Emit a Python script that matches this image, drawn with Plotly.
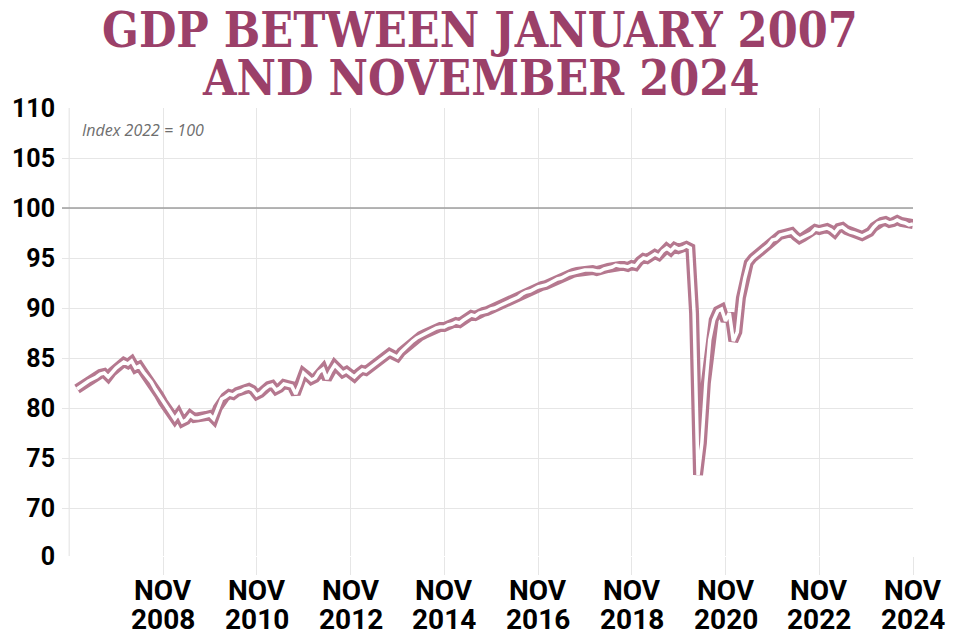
import pandas as pd
import plotly.graph_objects as go

# ---- data (monthly GDP index, 2022 = 100) ----
y2007 = [81.9, 82.2, 82.5, 82.7, 82.9, 83.1, 83.4, 83.5, 83.1, 83.6, 84.0, 84.3]
y2008 = [84.6, 84.4, 84.7, 84.0, 84.2, 83.6, 83.1, 82.6, 81.9, 81.3, 80.6, 80.0]
y2009 = [79.4, 78.9, 79.4, 78.6, 78.8, 79.3, 79.0, 79.0, 79.1, 79.2, 79.3, 78.9]
y2010 = [80.0, 80.9, 81.1, 81.4, 81.3, 81.6, 81.7, 81.9, 82.0, 81.8, 81.3, 81.5]
y2011 = [81.9, 82.2, 82.3, 81.8, 82.0, 82.4, 82.3, 82.2, 81.4, 82.3, 83.5, 83.2]
y2012 = [82.8, 83.0, 83.6, 83.9, 82.9, 83.7, 84.3, 83.9, 83.5, 83.7, 83.4, 83.1]
y2013 = [83.5, 83.8, 83.7, 84.0, 84.3, 84.6, 84.9, 85.2, 85.5, 85.3, 85.1, 85.6]
y2014 = [86.0, 86.4, 86.7, 87.0, 87.2, 87.4, 87.6, 87.8, 88.0, 88.1, 88.1, 88.3]
y2015 = [88.4, 88.6, 88.5, 88.8, 89.0, 89.3, 89.2, 89.5, 89.6, 89.7, 89.9, 90.0]
y2016 = [90.2, 90.4, 90.6, 90.8, 90.9, 91.1, 91.4, 91.6, 91.7, 91.9, 92.1, 92.2]
y2017 = [92.3, 92.5, 92.7, 92.9, 93.0, 93.2, 93.4, 93.5, 93.6, 93.7, 93.8, 93.8]
y2018 = [93.8, 93.7, 93.7, 93.9, 94.0, 94.1, 94.3, 94.2, 94.2, 94.1, 94.3, 94.2]
y2019 = [94.7, 95.0, 94.9, 95.2, 95.4, 95.2, 95.7, 96.0, 95.7, 96.1, 95.9, 96.0]
y2020 = [96.2, 96.0, 89.5, 73.3, 76.5, 82.5, 86.8, 88.8, 89.7, 89.9, 88.7, 89.5]
y2021 = [86.7, 87.6, 91.0, 93.0, 94.5, 95.0, 95.3, 95.6, 96.0, 96.3, 96.8, 96.9]
y2022 = [97.3, 97.4, 97.5, 97.6, 97.2, 96.9, 97.1, 97.3, 97.5, 97.9, 97.8, 97.9]
y2023 = [98.0, 97.8, 97.5, 98.0, 98.1, 97.8, 97.6, 97.5, 97.3, 97.2, 97.4, 97.6]
y2024 = [98.1, 98.5, 98.6, 98.7, 98.5, 98.6, 98.8, 98.6, 98.5, 98.3, 98.4]

gdp = (y2007 + y2008 + y2009 + y2010 + y2011 + y2012 + y2013 + y2014 + y2015
       + y2016 + y2017 + y2018 + y2019 + y2020 + y2021 + y2022 + y2023 + y2024)
months = pd.date_range("2007-01-01", periods=len(gdp), freq="MS")

x_tick_years = ["2008", "2010", "2012", "2014", "2016", "2018", "2020", "2022", "2024"]
x_tick_dates = [pd.Timestamp(f"{y}-11-01") for y in x_tick_years]
y_tick_vals = [65.2, 70, 75, 80, 85, 90, 95, 100, 105, 110]
y_tick_text = ["0", "70", "75", "80", "85", "90", "95", "100", "105", "110"]

TITLE_1 = "GDP BETWEEN JANUARY 2007"
TITLE_2 = "AND NOVEMBER 2024"
NOTE = "Index 2022 = 100"

# ---- styling ----
TITLE_COLOR = "#9b4069"
LINE_COLOR = "#b5788f"
GRID = "#e6e6e6"
LABEL_FONT = "Roboto, Liberation Sans, sans-serif"

first, last = x_tick_dates[0], x_tick_dates[-1]
x_left = last - (last - first) * (851 / 750)
x_range = [x_left, last]

fig = go.Figure()
fig.add_trace(go.Scatter(x=months, y=gdp, mode="lines",
                         line=dict(color=LINE_COLOR, width=10),
                         hoverinfo="skip", showlegend=False))
fig.add_trace(go.Scatter(x=months, y=gdp, mode="lines",
                         line=dict(color="white", width=3.5),
                         showlegend=False))

# reference line at 100
fig.add_shape(type="line", xref="x", yref="y", x0=x_range[0], x1=x_range[1],
              y0=100, y1=100, line=dict(color="#9e9e9e", width=1.5), layer="between")
# left gridline (Nov 2006)
nov2006 = pd.Timestamp("2006-11-01")
fig.add_shape(type="line", xref="x", yref="paper", x0=nov2006, x1=nov2006,
              y0=0, y1=1, line=dict(color=GRID, width=1.2), layer="below")

# titles
TITLE_FONT = dict(family="DejaVu Serif Condensed, DejaVu Serif", size=48,
                  color=TITLE_COLOR, weight="bold")
fig.add_annotation(text=TITLE_1, xref="paper", yref="paper", x=0.5, y=1, xanchor="center",
                   yanchor="middle", yshift=108 - 30, showarrow=False, font=TITLE_FONT,
                   xshift=480 - (62 + 851 / 2))
fig.add_annotation(text=TITLE_2, xref="paper", yref="paper", x=0.5, y=1, xanchor="center",
                   yanchor="middle", yshift=108 - 78, showarrow=False, font=TITLE_FONT,
                   xshift=480 - (62 + 851 / 2))
# note
fig.add_annotation(text="<i>" + NOTE + "</i>", xref="paper", yref="paper", x=0, y=1,
                   xanchor="left", yanchor="middle", xshift=18, yshift=-22,
                   showarrow=False, font=dict(family="Open Sans", size=16, color="#6e6e6e"))

# x tick labels as two lines
XL_FONT = dict(family=LABEL_FONT, size=28, color="black", weight="bold")
for d, yr in zip(x_tick_dates, x_tick_years):
    fig.add_annotation(text="NOV", x=d, xref="x", y=0, yref="paper", xanchor="center",
                       yanchor="middle", yshift=-34, showarrow=False, font=XL_FONT)
    fig.add_annotation(text=yr, x=d, xref="x", y=0, yref="paper", xanchor="center",
                       yanchor="middle", yshift=-63, showarrow=False, font=XL_FONT)

fig.update_xaxes(range=x_range, type="date", tickvals=x_tick_dates, showticklabels=False,
                 showgrid=True, gridcolor=GRID, gridwidth=1.2, automargin=False,
                 ticks="outside", ticklen=18, tickcolor=GRID, tickwidth=1.2,
                 showline=False, zeroline=False)
fig.update_yaxes(range=[65.2, 110], tickvals=y_tick_vals, ticktext=y_tick_text,
                 showgrid=True, gridcolor=GRID, gridwidth=1.2, ticks="", automargin=False,
                 ticklabelstandoff=6, zeroline=False, showline=False,
                 tickfont=dict(family=LABEL_FONT, size=25, color="black", weight="bold"))

fig.update_layout(width=960, height=640, margin=dict(l=62, r=47, t=108, b=84),
                  paper_bgcolor="white", plot_bgcolor="white", showlegend=False)

fig.write_html("out.html")
